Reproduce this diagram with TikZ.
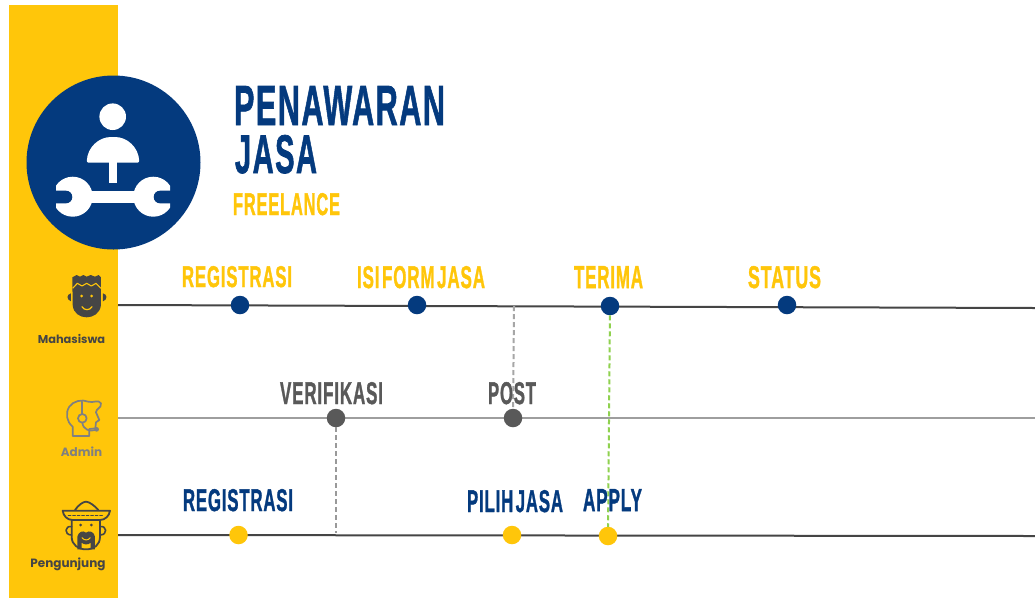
\documentclass[tikz,border=0pt]{standalone}
\usepackage{fontspec}
\usepackage{graphicx}
\setmainfont{Liberation Sans}
\setsansfont{Poppins}
\newfontfamily\poster[LetterSpace=5,BoldFeatures={FakeBold=1.5},WordSpace=0.45]{Liberation Sans}
\definecolor{navy}{HTML}{043A7E}
\definecolor{gold}{HTML}{FFC60A}
\definecolor{ink}{HTML}{454545}
\definecolor{slate}{HTML}{595959}
\definecolor{ash}{HTML}{808080}
\definecolor{lime}{HTML}{8FD14F}
\newcommand{\fittext}[3]{\resizebox{#1pt}{#2pt}{\poster\bfseries #3}}
\tikzset{
  x=1pt,y=-1pt,
  title/.style={inner sep=0pt,outer sep=0pt,anchor=north west},
  role/.style={inner sep=0pt,font=\sffamily\bfseries\fontsize{12}{13}\selectfont},
  dot/.style={circle,inner sep=0pt,minimum size=18.5pt,outer sep=0pt},
  blue dot/.style={dot,fill=navy},
  grey dot/.style={dot,fill=slate},
  gold dot/.style={dot,fill=gold},
  track/.style={line width=2pt},
  link/.style={dashed,dash pattern=on 5pt off 3pt,line width=2pt},
}
\begin{document}
\begin{tikzpicture}
\useasboundingbox (0,0) rectangle (1035,598);
\fill[white] (0,0) rectangle (1035,598);
\fill[gold] (9,5) rectangle (118,598);

% tracks
\coordinate (t0) at (118,305); \coordinate (t1) at (1035,308);
\coordinate (m0) at (118,418); \coordinate (m1) at (1035,418);
\coordinate (b0) at (118,535); \coordinate (b1) at (1035,536);
\coordinate (postTop) at (514,306);
\coordinate (verBot) at (336,533);
\draw[track,color=ink] (t0) -- (t1);
\draw[track,color=black!38] (m0) -- (m1);
\draw[track,color=ink] (b0) -- (b1);

% dots
\node[blue dot] (d1) at (240,305) {};
\node[blue dot] (d2) at (417,305) {};
\node[blue dot] (d3) at (610,306) {};
\node[blue dot] (d4) at (787,305) {};
\node[grey dot] (g1) at (336,418) {};
\node[grey dot] (g2) at (513,418) {};
\node[gold dot] (y1) at (238.5,535) {};
\node[gold dot] (y2) at (512,535) {};
\node[gold dot] (y3) at (608,536) {};

% dashed connectors
\draw[link,color=black!35] (postTop) -- (g2);
\draw[link,color=black!40] (g1) -- (verBot);
\draw[link,color=lime] (d3) -- (y3);

% big badge
\node[circle,fill=navy,minimum size=174pt,inner sep=0pt] (badge) at (113.5,162.5) {};
\fill[white] (112.7,116.7) circle (13.3);
\fill[white,rounded corners=2pt] (86.7,162.7) .. controls (87.5,147) and (99,137) .. (113,137) .. controls (127,137) and (138.5,147) .. (139.3,162.7) -- cycle;
\fill[white] (109.3,160) rectangle (116.7,183.3);
\fill[white] (85,190.7) rectangle (141,203.3);
\begin{scope}
  \clip (56,170) rectangle (170,225);
  \fill[white] (72.7,196.7) circle (20);
  \fill[white] (153.3,196.7) circle (20);
\end{scope}
\fill[navy] (50,190.7) -- (66,190.7) arc (-90:90:6.3) -- (50,203.3) -- cycle;
\fill[navy] (176,190.7) -- (160,190.7) arc (-90:-270:6.3) -- (176,203.3) -- cycle;

% titles
\node[title,text=navy] (tA) at (234,86) {\fittext{211}{39}{PENAWARAN}};
\node[title,text=navy] (tB) at (235,135) {\fittext{82}{38}{JASA}};
\node[title,text=gold] (tC) at (233,193) {\fittext{107}{22}{FREELANCE}};
\node[title,text=gold] (l1) at (182,266) {\fittext{110}{21}{REGISTRASI}};
\node[title,text=gold] (l2) at (357,266) {\fittext{128}{22}{ISI FORM JASA}};
\node[title,text=gold] (l3) at (574,266) {\fittext{69}{22}{TERIMA}};
\node[title,text=gold] (l4) at (748,266) {\fittext{73}{22}{STATUS}};
\node[title,text=slate] (l5) at (280,382) {\fittext{103}{22}{VERIFIKASI}};
\node[title,text=slate] (l6) at (488,382) {\fittext{48}{22}{POST}};
\node[title,text=navy] (l7) at (183,489) {\fittext{110}{22}{REGISTRASI}};
\node[title,text=navy] (l8) at (467,490) {\fittext{96}{22}{PILIH JASA}};
\node[title,text=navy] (l9) at (583,489) {\fittext{59}{22}{APPLY}};

% role captions
\node[role,text=ink,font=\sffamily\bfseries\fontsize{11.4}{13}\selectfont] (r1) at (71.5,339) {Mahasiswa};
\node[role,text=ash] (r2) at (81.5,452) {Admin};
\node[role,text=ink] (r3) at (68,564) {Pengunjung};

% Mahasiswa icon (coordinates of a 3x crop)
\begin{scope}[shift={(20,260)},x=0.3333pt,y=-0.3333pt]
  \fill[ink] (157,52) -- (170,45) -- (180,50) -- (190,45) -- (200,50) -- (212,45) -- (225,50) -- (236,45) -- (243,52) -- (243,135) .. controls (240,160) and (220,172) .. (200,172) .. controls (180,172) and (160,160) .. (158,135) -- cycle;
  \draw[gold,line width=1.1pt,line join=round] (158,85) -- (172,70) -- (186,78) -- (200,70) -- (214,78) -- (228,70) -- (243,85);
  \fill[ink] (153,100) .. controls (140,103) and (138,118) .. (153,124) -- cycle;
  \fill[ink] (249,100) .. controls (262,103) and (264,118) .. (249,124) -- cycle;
  \fill[gold] (185,108) circle (4.5);
  \fill[gold] (215,108) circle (4.5);
  \draw[gold,line width=1.2pt,line cap=round] (186,140) .. controls (192,152) and (210,152) .. (216,140);
\end{scope}

% Admin icon
\begin{scope}[shift={(20,385)},x=0.3333pt,y=-0.3333pt,line join=round,line cap=round]
  \draw[ash,line width=1.7pt] (158,153) -- (158,125) .. controls (140,110) and (135,85) .. (148,65) .. controls (160,48) and (185,42) .. (205,50) .. controls (220,55) and (235,42) .. (243,55) .. controls (245,70) and (228,70) .. (228,82) -- (238,105) -- (228,112) -- (226,130) -- (208,132) -- (208,153) -- cycle;
  \draw[ash,line width=1.7pt] (187,50) -- (187,88);
  \draw[ash,line width=1.7pt] (187,100) circle (13);
  \draw[ash,line width=1.7pt] (187,113) .. controls (190,135) and (210,140) .. (226,135);
  \fill[ash] (230,133) circle (7);
\end{scope}

% Pengunjung icon
\begin{scope}[shift={(20,490)},x=0.3333pt,y=-0.3333pt,line join=round,line cap=round]
  \draw[ink,line width=1.8pt] (165,60) .. controls (175,45) and (190,35) .. (198,35) .. controls (208,35) and (225,48) .. (235,60);
  \draw[ink,line width=1.8pt] (128,62) -- (270,62) .. controls (268,78) and (255,90) .. (240,90) -- (158,90) .. controls (142,90) and (130,78) .. (128,62) -- cycle;
  \draw[ink,line width=1.2pt,dash pattern=on 2.5pt off 2pt] (145,76) -- (252,76);
  \draw[ink,line width=1.8pt] (155,92) -- (155,140) .. controls (155,165) and (175,178) .. (198,178) .. controls (222,178) and (240,165) .. (240,140) -- (240,92);
  \draw[ink,line width=1.6pt] (155,110) .. controls (135,105) and (130,135) .. (155,135);
  \draw[ink,line width=1.6pt] (240,110) .. controls (260,105) and (265,135) .. (240,135);
  \fill[ink] (182,105) circle (4.5);
  \fill[ink] (214,105) circle (4.5);
  \fill[ink] (172,178) -- (172,140) .. controls (175,125) and (190,120) .. (198,128) .. controls (208,120) and (222,125) .. (225,140) -- (225,178) -- (212,178) -- (212,158) .. controls (205,165) and (192,165) .. (185,158) -- (185,178) -- cycle;
  \draw[gold,line width=1pt] (186,143) .. controls (192,152) and (205,152) .. (211,143);
\end{scope}
\end{tikzpicture}
\end{document}
